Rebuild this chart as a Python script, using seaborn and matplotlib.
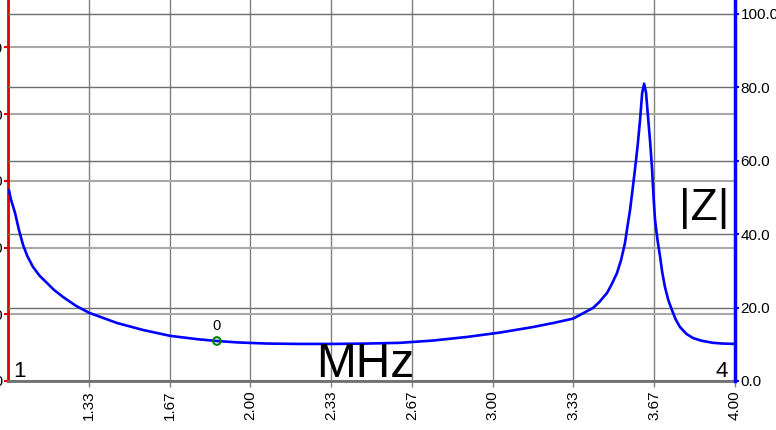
import numpy as np
import matplotlib; matplotlib.use("Agg")
import matplotlib.pyplot as plt
import seaborn as sns
import pandas as pd

# ── data ───────────────────────────────────────────────────────────────────
freq_mhz = [1.004, 1.012, 1.029, 1.045, 1.062, 1.080, 1.103, 1.130, 1.161, 1.190,
            1.227, 1.280, 1.334, 1.450, 1.557, 1.669, 1.780, 1.862, 1.950, 2.069,
            2.200, 2.341, 2.480, 2.618, 2.750, 2.894, 3.030, 3.166, 3.250, 3.332,
            3.414, 3.440, 3.472, 3.490, 3.513, 3.530, 3.546, 3.556, 3.567, 3.577,
            3.587, 3.598, 3.608, 3.617, 3.625, 3.633, 3.641, 3.650, 3.658, 3.664,
            3.670, 3.680, 3.691, 3.700, 3.711, 3.725, 3.740, 3.755, 3.773, 3.800,
            3.827, 3.860, 3.909, 3.950, 4.000]
z_mag = [52.0, 49.5, 45.8, 41.2, 37.1, 34.0, 31.1, 28.7, 26.7, 24.8,
         22.9, 20.5, 18.6, 15.8, 13.9, 12.3, 11.4, 10.9, 10.5, 10.2,
         10.1, 10.1, 10.2, 10.4, 11.0, 12.0, 13.2, 14.7, 15.8, 17.0,
         19.9, 21.5, 24.0, 26.2, 29.4, 33.0, 37.6, 42.0, 46.6, 52.0,
         57.5, 64.0, 71.0, 78.5, 81.0, 78.5, 72.0, 65.0, 57.5, 50.0,
         43.9, 38.5, 33.8, 29.5, 25.6, 22.0, 19.3, 16.8, 14.7, 12.8,
         11.7, 11.0, 10.4, 10.2, 10.1]
marker_freq = [1.862]
marker_z = [10.9]
marker_label = ["0"]

x_ticks = [1 + k / 3 for k in range(1, 10)]
x_labels = ["1.33", "1.67", "2.00", "2.33", "2.67", "3.00", "3.33", "3.67", "4.00"]
right_ticks = [0, 20, 40, 60, 80, 100]
left_ticks = [0, 20, 40, 60, 80, 100]

df = pd.DataFrame({"MHz": freq_mhz, "Z": z_mag})
mk = pd.DataFrame({"MHz": marker_freq, "Z": marker_z})

# ── figure ──────────────────────────────────────────────────────────────────
sns.set_style("white")
plt.rcParams["font.family"] = ["Liberation Sans", "DejaVu Sans"]
plt.rcParams["text.color"] = "black"
W, H = 776, 430
fig = plt.figure(figsize=(W / 100, H / 100), dpi=100)
ax = fig.add_axes([8 / W, 49 / H, 727 / W, 381 / H])
ax.set_xlim(1, 4)
ax.set_ylim(0, 114.2)
ax.set_yticks(left_ticks)
ax.set_yticklabels([f"{v:.1f}" for v in left_ticks])
ax.set_xticks(x_ticks)
ax.set_xticklabels(x_labels, rotation=90)
ax.grid(True, axis="y", color="#a8a8a8", lw=1.5)
ax.grid(True, axis="x", color="#808080", lw=1.0)
ax.tick_params(axis="y", colors="#e00000", labelcolor="black", length=3, width=1.5,
               pad=0.5, labelsize=11, left=True)
ax.tick_params(axis="x", colors="#808080", labelcolor="black", length=4, width=1,
               pad=3, labelsize=11, bottom=True)
for s in ["top", "right"]:
    ax.spines[s].set_visible(False)
ax.spines["left"].set_color("#e00000"); ax.spines["left"].set_linewidth(2)
ax.spines["bottom"].set_color("#707070"); ax.spines["bottom"].set_linewidth(2)

ax2 = ax.twinx()
ax2.set_ylim(0, 103.8)
ax2.set_yticks(right_ticks)
ax2.set_yticklabels([f"{v:.1f}" for v in right_ticks])
ax2.grid(True, axis="y", color="#6e6e6e", lw=1.0)
ax2.tick_params(axis="y", colors="#0000e0", labelcolor="black", length=3, width=1.5,
                pad=1, labelsize=11, right=True)
for s in ["top", "left", "bottom"]:
    ax2.spines[s].set_visible(False)
ax2.spines["right"].set_color("#0000ff"); ax2.spines["right"].set_linewidth(2.5)

sns.lineplot(data=df, x="MHz", y="Z", ax=ax2, color="#0000ff", lw=1.9, sort=False,
             solid_joinstyle="round", solid_capstyle="round")
sns.scatterplot(data=mk, x="MHz", y="Z", ax=ax2, s=30, facecolor="none",
                edgecolor="#008000", linewidth=1.5, zorder=5)
for f, z, t in zip(marker_freq, marker_z, marker_label):
    ax2.annotate(t, (f, z), xytext=(0, 6), textcoords="offset points",
                 ha="center", va="bottom", fontsize=10.5, color="black")
ax2.set_xlabel(""); ax2.set_ylabel("")
ax.set_xlabel(""); ax.set_ylabel("")

# overlay labels
fig.text(13 / W, 1 - 377 / H, "1", fontsize=16, va="baseline", ha="left", color="black")
fig.text(728 / W, 1 - 377 / H, "4", fontsize=16, va="baseline", ha="right", color="black")
fig.text(316 / W, 1 - 377 / H, "MHz", fontsize=34.5, va="baseline", ha="left", color="black")
fig.text(679 / W, 1 - 220 / H, "|Z|", fontsize=32, va="baseline", ha="left", color="black")

fig.savefig("out.png", dpi=100)
